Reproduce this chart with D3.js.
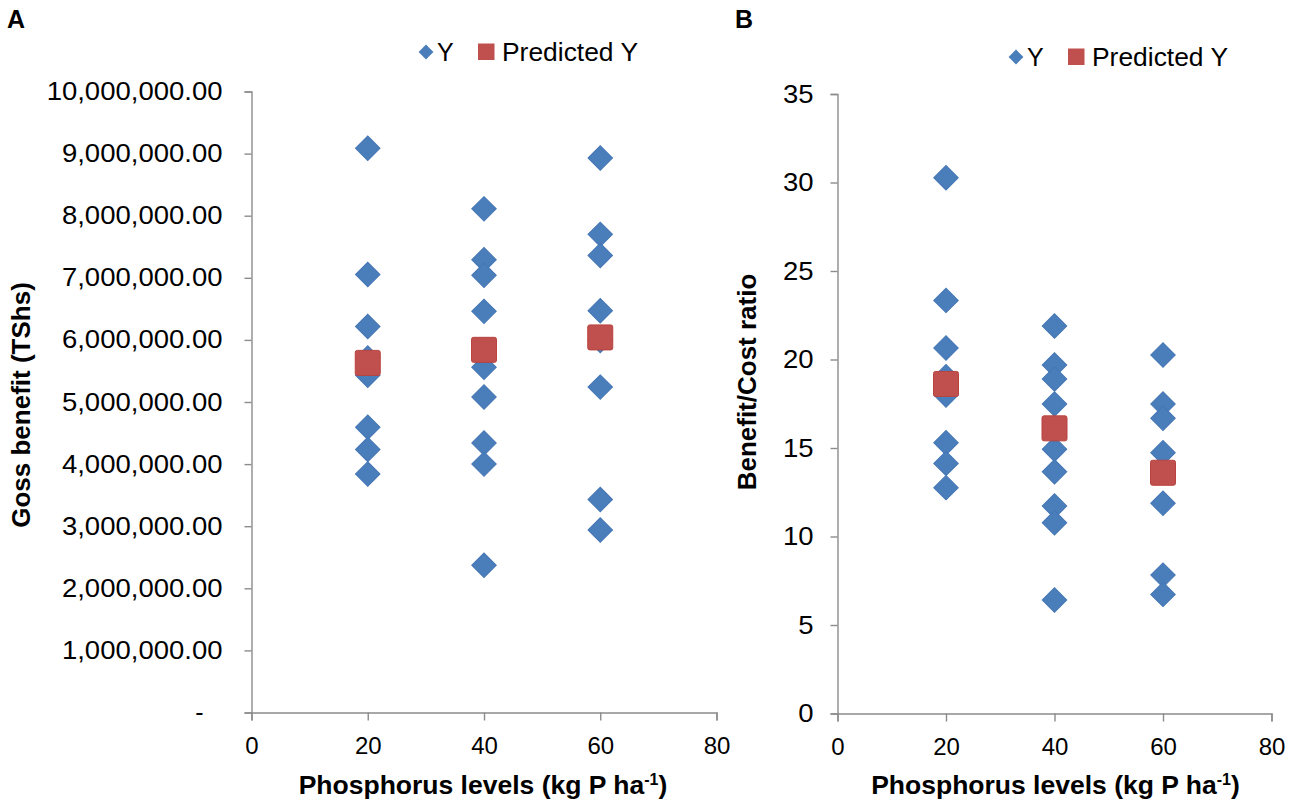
<!DOCTYPE html>
<html lang="en">
<head>
	<meta charset="UTF-8">
	<title>Phosphorus levels - gross benefit and benefit/cost ratio</title>
	<script src="https://cdn.jsdelivr.net/npm/d3@7"></script>
	<style>
		body { margin: 0; background: #fff; }
		text { font-family: "Liberation Sans", Arial, sans-serif; fill: #000; }
	</style>
</head>
<body>
	<div id="container"></div>
	<script>
		// data
		var pLevels = [20, 40, 60];
		var xTicks = [0, 20, 40, 60, 80];

		// panel A: gross benefit (TShs), observed Y per P level
		var grossObs = [
			[9087000, 7053000, 6216000, 5710000, 5430000, 4594000, 4235000, 3840000],
			[8110000, 7290000, 7040000, 6460000, 5560000, 5080000, 4340000, 4000000, 2370000],
			[8930000, 7700000, 7360000, 6470000, 5990000, 5240000, 3430000, 2940000]
		];
		var grossPred = [5630000, 5840000, 6040000];
		var grossTicks = [0, 1e6, 2e6, 3e6, 4e6, 5e6, 6e6, 7e6, 8e6, 9e6, 1e7];

		// panel B: benefit/cost ratio
		var bcObs = [
			[30.27, 23.34, 20.65, 19.03, 17.99, 15.30, 14.13, 12.76],
			[21.89, 19.69, 18.90, 17.49, 14.93, 13.66, 11.72, 10.78, 6.41],
			[20.25, 17.49, 16.68, 14.73, 11.88, 7.82, 6.73]
		];
		var bcPred = [18.62, 16.11, 13.60];
		var bcTicks = [0, 5, 10, 15, 20, 25, 30, 35];

		var width = 1299, height = 806;
		var blue = "#4a7ebb", red = "#c0504d", axisGrey = "#8c8c8c";

		var svg = d3.select("#container").append("svg")
				.attr("width", width)
				.attr("height", height);

		var diamond = d3.symbol().type(d3.symbolSquare);

		function panel(opt) {
			var x = d3.scaleLinear().domain([0, 80]).range(opt.xr);
			var y = d3.scaleLinear().domain(opt.yd).range(opt.yr);
			var g = svg.append("g");

			// y axis
			var ya = g.append("g")
					.attr("transform", "translate(" + opt.xr[0] + ",0)")
					.call(d3.axisLeft(y).tickValues(opt.yTicks).tickSize(7)
						.tickPadding(opt.yPad).tickFormat(opt.fmt));
			ya.selectAll("text")
					.style("font-size", "25px")
					.each(function() {
						// the original labels are a little wider than the font
						var w = this.getComputedTextLength();
						if (w > 10) d3.select(this).attr("textLength", w * 1.1).attr("lengthAdjust", "spacingAndGlyphs");
					});

			// x axis
			var xa = g.append("g")
					.attr("transform", "translate(0," + opt.yr[0] + ")")
					.call(d3.axisBottom(x).tickValues(xTicks).tickSize(8).tickPadding(16));
			xa.selectAll("text").style("font-size", "24px");

			g.selectAll(".domain, .tick line")
					.attr("stroke", axisGrey)
					.attr("stroke-width", 1.4);
			g.selectAll(".tick text").attr("fill", "#000");
			if (opt.zeroDash) {
				ya.selectAll(".tick").filter(function(d) { return d === 0; })
					.select("text").attr("dx", -19);
			}

			// observed points
			var pts = [];
			opt.obs.forEach(function(arr, i) {
				arr.forEach(function(v) { pts.push([pLevels[i], v]); });
			});
			g.selectAll(".obs").data(pts)
				.enter().append("path")
					.attr("class", "obs")
					.attr("d", diamond.size(300))
					.attr("transform", function(d) {
						return "translate(" + x(d[0]) + "," + y(d[1]) + ") rotate(45)";
					})
					.attr("fill", blue)
					.attr("stroke", "#4576b3")
					.attr("stroke-width", 1);

			// predicted
			g.selectAll(".pred").data(opt.pred)
				.enter().append("rect")
					.attr("class", "pred")
					.attr("x", function(d, i) { return x(pLevels[i]) - 12.5; })
					.attr("y", function(d) { return y(d) - 12.5; })
					.attr("width", 25)
					.attr("height", 25)
					.attr("rx", 2)
					.attr("fill", red)
					.attr("stroke", "#b8433f")
					.attr("stroke-width", 1);

			// axis titles
			g.append("text")
					.attr("x", (opt.xr[0] + opt.xr[1]) / 2 + opt.xtOff)
					.attr("y", 794)
					.attr("text-anchor", "middle")
					.style("font-size", "26.5px")
					.style("font-weight", "bold")
					.text("Phosphorus levels (kg P ha")
				.append("tspan")
					.attr("dy", -9)
					.style("font-size", "16px")
					.text("-1")
				.select(function() { return this.parentNode; })
				.append("tspan")
					.attr("dy", 9)
					.text(")");

			g.append("text")
					.attr("transform", "translate(" + opt.ytX + "," + opt.ytY + ") rotate(-90)")
					.attr("text-anchor", "middle")
					.attr("dy", "0.35em")
					.style("font-size", "26px")
					.style("font-weight", "bold")
					.text(opt.yTitle);

			// panel letter
			g.append("text")
					.attr("x", opt.letterX)
					.attr("y", 28)
					.style("font-size", "25px")
					.style("font-weight", "bold")
					.text(opt.letter);

			// legend
			var lg = g.append("g").attr("transform", "translate(" + opt.lx + "," + opt.ly + ")");
			lg.append("path")
					.attr("d", diamond.size(110))
					.attr("transform", "rotate(45)")
					.attr("fill", blue);
			lg.append("text")
					.attr("x", 11)
					.attr("dy", "0.35em")
					.style("font-size", "25px")
					.text("Y");
			lg.append("rect")
					.attr("x", 52)
					.attr("y", -8.5)
					.attr("width", 16.5)
					.attr("height", 16.5)
					.attr("fill", red);
			lg.append("text")
					.attr("x", 76)
					.attr("dy", "0.35em")
					.attr("textLength", 136)
					.attr("lengthAdjust", "spacingAndGlyphs")
					.style("font-size", "25px")
					.text("Predicted Y");
		}

		panel({
			xr: [251.5, 716.5], yr: [712.5, 91.5], yd: [0, 1e7],
			yTicks: grossTicks, yPad: 22,
			fmt: function(d) { return d === 0 ? "-" : d3.format(",.2f")(d); },
			zeroDash: true,
			obs: grossObs, pred: grossPred,
			yTitle: "Goss benefit (TShs)", ytX: 21, ytY: 405,
			letter: "A", letterX: 7, xtOff: -1,
			lx: 426, ly: 52
		});

		panel({
			xr: [837.5, 1271.5], yr: [713.5, 94], yd: [0, 35],
			yTicks: bcTicks, yPad: 17,
			fmt: d3.format("d"),
			zeroDash: false,
			obs: bcObs, pred: bcPred,
			yTitle: "Benefit/Cost ratio", ytX: 747, ytY: 382,
			letter: "B", letterX: 735, xtOff: 1,
			lx: 1016, ly: 57
		});
	</script>
</body>
</html>
